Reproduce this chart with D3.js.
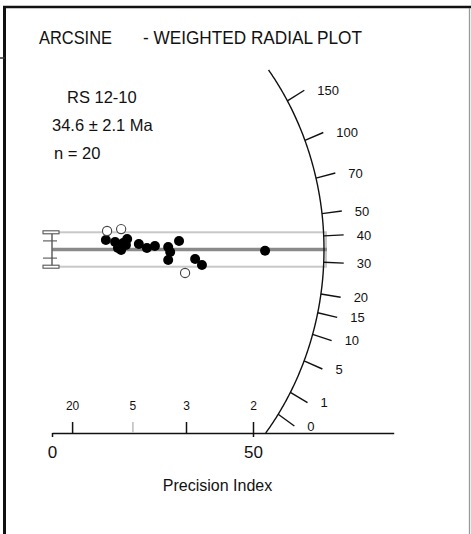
<!DOCTYPE html>
<html>
<head>
<meta charset="utf-8">
<script src="https://cdn.jsdelivr.net/npm/d3@7"></script>
<style>
  body { margin: 0; background: #fff; }
  svg { display: block; }
  text { font-family: "Liberation Sans", Arial, Helvetica, sans-serif; fill: #111; }
</style>
</head>
<body>
<svg id="chart" width="471" height="534"></svg>
<script>
// Accepted grains: precision (1/sigma) and standardized estimate (z - z0)/sigma
const grainPrecision = [13.4, 15.7, 16.4, 17.2, 17.7, 18.7, 18.4, 21.6, 23.6, 25.6, 28.9, 29.4, 28.9, 31.6, 35.6, 37.3, 53.0];
const grainZ        = [1.10, 0.87, 0.17, -0.06, 0.76, 1.22, 0.52, 0.64, 0.17, 0.41, 0.29, -0.29, -1.22, 0.99, -1.10, -1.80, -0.14];
// Grains drawn as open symbols
const openPrecision = [13.7, 17.2, 33.1];
const openZ         = [2.15, 2.38, -2.73];
// Age ticks (Ma) on the radial scale
const arcAges = [0, 1, 5, 10, 15, 20, 30, 40, 50, 70, 100, 150];
// Relative error (%) ticks above the precision axis
const relErrTicks = [20, 5, 3, 2];
// Precision axis ticks
const precisionTicks = [0, 50];
const centralAge = 34.6;
const centralErr = 2.1;
const sampleName = "RS 12-10";

// Arcsine transform of the count ratio, ratio taken proportional to age
const ratioPerMa = 0.003627;
const zOf = t => { const r = ratioPerMa * t; return Math.asin(Math.sqrt(r / (1 + r))); };
const z0 = zOf(centralAge);

const svg = d3.select("#chart");

// Scales: precision horizontally, standardized estimate vertically
const x = d3.scaleLinear().domain([0, 85]).range([52, 393.7]);
const y = d3.scaleLinear().domain([-2, 2]).range([266.7, 232.3]);
const axisY = 433;
const arcTopY = 70;

// Radial scale drawn as an ellipse in data units
const rx = 67.66, ry = 34.5;
const onArc = s => { const px = 1 / Math.sqrt(1 / (rx * rx) + (s * s) / (ry * ry)); return [px, s * px]; };
const thTop = Math.asin(y.invert(arcTopY) / ry);
const thBot = Math.asin(y.invert(axisY) / ry);
const arcPts = d3.range(0, 201).map(i => {
  const th = thTop + (thBot - thTop) * i / 200;
  return [rx * Math.cos(th), ry * Math.sin(th)];
});
const arcEdgeX = x(rx);

// Page frame
const frame = svg.append("g");
frame.append("line").attr("x1", 3).attr("y1", 7).attr("x2", 471).attr("y2", 7).attr("stroke", "#111").attr("stroke-width", 2.5);
frame.append("line").attr("x1", 4.5).attr("y1", 6).attr("x2", 4.5).attr("y2", 534).attr("stroke", "#111").attr("stroke-width", 3);
frame.append("line").attr("x1", 0).attr("y1", 58).attr("x2", 5).attr("y2", 58).attr("stroke", "#333").attr("stroke-width", 1.5);
frame.append("line").attr("x1", 469.5).attr("y1", 8).attr("x2", 469.5).attr("y2", 534).attr("stroke", "#999").attr("stroke-width", 1.3);

// Title and sample summary
svg.append("text").attr("x", 39).attr("y", 44).attr("font-size", 17.5)
  .attr("textLength", 73).attr("lengthAdjust", "spacingAndGlyphs").text("ARCSINE");
svg.append("text").attr("x", 143).attr("y", 44).attr("font-size", 17.5)
  .attr("textLength", 219).attr("lengthAdjust", "spacingAndGlyphs").text("- WEIGHTED RADIAL PLOT");
svg.append("text").attr("x", 67).attr("y", 103).attr("font-size", 16.5).text(sampleName);
svg.append("text").attr("x", 52).attr("y", 131).attr("font-size", 16.5).text(`${centralAge} ± ${centralErr} Ma`);
svg.append("text").attr("x", 54).attr("y", 159).attr("font-size", 16.5).text(`n = ${grainPrecision.length + openPrecision.length}`);

// ±2 band around the central value
svg.append("rect")
  .attr("x", x(0)).attr("y", y(2))
  .attr("width", arcEdgeX + 2 - x(0)).attr("height", y(-2) - y(2))
  .attr("fill", "none").attr("stroke", "#c8c8c8").attr("stroke-width", 2);

// Central age line
svg.append("line")
  .attr("x1", x(0)).attr("y1", y(0)).attr("x2", arcEdgeX + 3).attr("y2", y(0))
  .attr("stroke", "#8a8a8a").attr("stroke-width", 3.5);

// ±2 sigma scale bar at the origin
const bar = svg.append("g").attr("stroke", "#555").attr("stroke-width", 1.1);
bar.append("line").attr("x1", x(0)).attr("x2", x(0)).attr("y1", y(2)).attr("y2", y(-2));
[2, -2].forEach(v => bar.append("rect").attr("x", 43).attr("y", y(v) - 1.5).attr("width", 16).attr("height", 3).attr("fill", "#fff"));
[1, -1].forEach(v => bar.append("line").attr("x1", 43).attr("x2", 57).attr("y1", y(v)).attr("y2", y(v)));

// Grain estimates
svg.append("g").selectAll("circle")
  .data(grainPrecision.map((p, i) => [p, grainZ[i]]))
  .join("circle")
  .attr("cx", d => x(d[0])).attr("cy", d => y(d[1])).attr("r", 5).attr("fill", "#000");
svg.append("g").selectAll("circle")
  .data(openPrecision.map((p, i) => [p, openZ[i]]))
  .join("circle")
  .attr("cx", d => x(d[0])).attr("cy", d => y(d[1])).attr("r", 4.6)
  .attr("fill", "#fff").attr("stroke", "#444").attr("stroke-width", 1.1);

// Radial age scale
svg.append("path")
  .attr("d", d3.line().x(d => x(d[0])).y(d => y(d[1]))(arcPts))
  .attr("fill", "none").attr("stroke", "#111").attr("stroke-width", 1.4);

const ox = x(0), oy = y(0);
const ageTicks = arcAges.map(t => {
  const [px, py] = onArc(zOf(t) - z0);
  const X = x(px), Y = y(py);
  const len = Math.hypot(X - ox, Y - oy);
  const ux = (X - ox) / len, uy = (Y - oy) / len;
  return { t, X, Y, EX: X + 20 * ux, EY: Y + 20 * uy };
});
const ageG = svg.append("g");
ageG.selectAll("line").data(ageTicks).join("line")
  .attr("x1", d => d.X).attr("y1", d => d.Y).attr("x2", d => d.EX).attr("y2", d => d.EY)
  .attr("stroke", "#111").attr("stroke-width", 1.4);
ageG.selectAll("text").data(ageTicks).join("text")
  .attr("x", d => d.EX + 13).attr("y", d => d.EY).attr("dy", "0.36em")
  .attr("font-size", 13).text(d => d.t);

// Precision axis
const xAxis = svg.append("g").attr("transform", `translate(0,${axisY})`)
  .call(d3.axisBottom(x).tickValues(precisionTicks).tickSize(4).tickSizeOuter(0).tickPadding(9).tickFormat(d3.format("d")));
xAxis.select(".domain").attr("stroke", "#111").attr("stroke-width", 1.5);
xAxis.selectAll(".tick line").attr("stroke", "#111").attr("stroke-width", 1.5);
xAxis.selectAll(".tick text").attr("font-size", 17).attr("fill", "#111").attr("font-family", null);

// Relative error ticks
const relAxis = svg.append("g").attr("transform", `translate(0,${axisY})`)
  .call(d3.axisTop(x).tickValues(relErrTicks.map(e => 100 / e)).tickSize(11).tickPadding(12).tickFormat(p => Math.round(100 / p)));
relAxis.select(".domain").remove();
relAxis.selectAll(".tick line").attr("stroke", (d, i) => relErrTicks[i] === 5 ? "#bbb" : "#111").attr("stroke-width", 1.5);
relAxis.selectAll(".tick text").attr("font-size", 12).attr("fill", "#111").attr("font-family", null);

svg.append("text").attr("x", 217.5).attr("y", 491).attr("text-anchor", "middle")
  .attr("font-size", 16).text("Precision Index");
</script>
</body>
</html>
